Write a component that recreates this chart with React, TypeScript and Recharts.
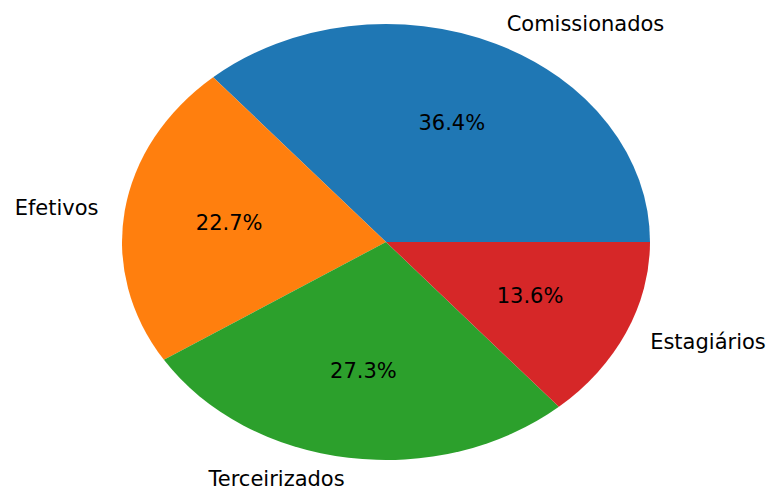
import { PieChart, Pie, Cell } from 'recharts';

const categories = ['Comissionados', 'Efetivos', 'Terceirizados', 'Estagiários'];
const counts = [8, 5, 6, 3];
const colors = ['#1f77b4', '#ff7f0e', '#2ca02c', '#d62728'];

const chartData = categories.map((name, i) => ({ name, value: counts[i] }));

// matplotlib drew this pie without equal aspect, so it is an ellipse
const RX = 264;
const RY = 218;
const RAD = Math.PI / 180;

function EllipseSector(props: any) {
  const { cx, cy, outerRadius, startAngle, endAngle, fill } = props;
  const ry = (outerRadius * RY) / RX;
  const x1 = cx + outerRadius * Math.cos(startAngle * RAD);
  const y1 = cy - ry * Math.sin(startAngle * RAD);
  const x2 = cx + outerRadius * Math.cos(endAngle * RAD);
  const y2 = cy - ry * Math.sin(endAngle * RAD);
  const large = Math.abs(endAngle - startAngle) > 180 ? 1 : 0;
  const sweep = endAngle > startAngle ? 0 : 1;
  const d = `M${cx},${cy} L${x1},${y1} A${outerRadius},${ry} 0 ${large} ${sweep} ${x2},${y2} Z`;
  return <path d={d} fill={fill} stroke="none" />;
}

function renderLabel(props: any) {
  const { cx, cy, midAngle, outerRadius, percent, name } = props;
  const ry = (outerRadius * RY) / RX;
  const c = Math.cos(midAngle * RAD);
  const s = Math.sin(midAngle * RAD);
  const lx = cx + 1.1 * outerRadius * c;
  const ly = cy - 1.1 * ry * s;
  const px = cx + 0.6 * outerRadius * c;
  const py = cy - 0.6 * ry * s;
  return (
    <g>
      <text
        x={lx}
        y={ly}
        textAnchor={c > 0 ? 'start' : 'end'}
        dominantBaseline="central"
        fill="#000"
        fontSize={21}
        fontFamily="DejaVu Sans"
      >
        {name}
      </text>
      <text
        x={px}
        y={py}
        textAnchor="middle"
        dominantBaseline="central"
        fill="#000"
        fontSize={21}
        fontFamily="DejaVu Sans"
      >
        {`${(percent * 100).toFixed(1)}%`}
      </text>
    </g>
  );
}

function App() {
  return (
    <div style={{ position: 'absolute', left: 0, top: 0, background: '#fff' }}>
      <PieChart
        width={773}
        height={488}
        margin={{ top: 0, right: 0, bottom: 0, left: 0 }}
      >
        <Pie
          data={chartData}
          dataKey="value"
          nameKey="name"
          cx={386}
          cy={242}
          outerRadius={RX}
          startAngle={0}
          endAngle={360}
          stroke="none"
          label={renderLabel}
          labelLine={false}
          shape={EllipseSector}
          activeShape={EllipseSector}
          isAnimationActive={false}
        >
          {chartData.map((entry, index) => (
            <Cell key={`cell-${index}`} fill={colors[index]} />
          ))}
        </Pie>
      </PieChart>
    </div>
  );
}

export default App;
